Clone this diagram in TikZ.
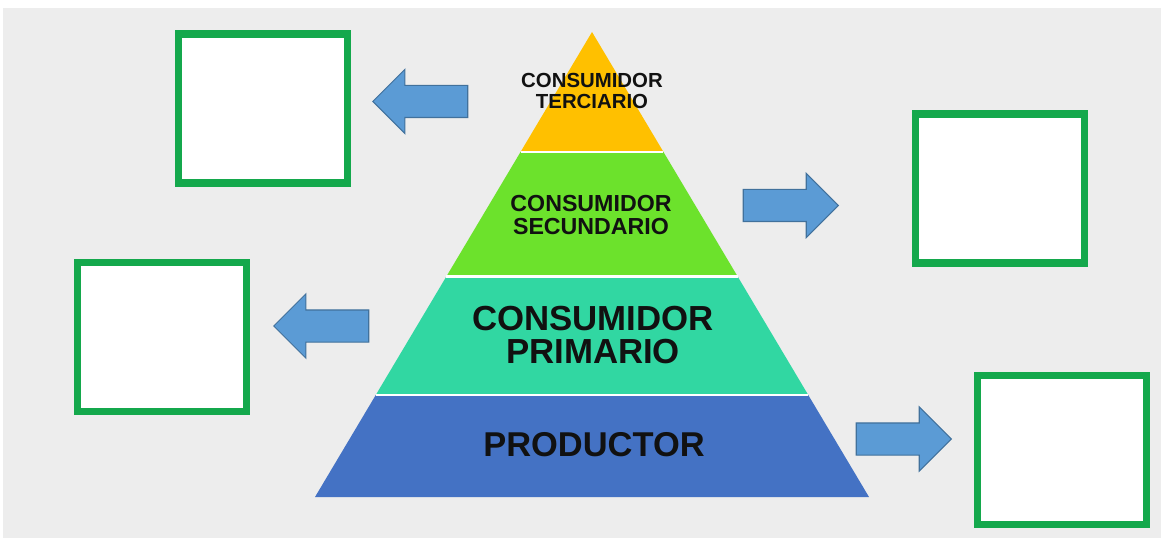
\documentclass[tikz,border=0pt]{standalone}
\usepackage{fontspec}
\setmainfont{Liberation Sans}
\usetikzlibrary{shapes.arrows,calc}
\definecolor{fondo}{HTML}{EDEDED}
\definecolor{naranja}{HTML}{FFC000}
\definecolor{lima}{HTML}{6CE22C}
\definecolor{turquesa}{HTML}{31D7A2}
\definecolor{azul}{HTML}{4472C4}
\definecolor{flechaazul}{HTML}{5B9BD5}
\definecolor{flechaborde}{HTML}{41719C}
\definecolor{cajaverde}{HTML}{14A84C}
\definecolor{letra}{HTML}{111111}
\tikzset{
  caja/.style = {rectangle, draw=cajaverde, fill=white, line width=4pt,
    minimum width=33.8mm, minimum height=29.8mm},% empty answer box
  flecha/.style = {single arrow, draw=flechaborde, fill=flechaazul,
    line width=0.6pt, inner xsep=0pt, inner ysep=3.1mm, anchor=tip,
    minimum height=19mm, single arrow head extend=3.2mm},% block arrow
  izq/.style = {flecha, shape border rotate=180},% arrow to the left
  nivel/.style = {font=\bfseries, text=letra, align=center, inner sep=0pt},
  corte/.style = {white, line width=1.4pt}% gap between levels
}

\begin{document}
\begin{tikzpicture}[x=0.2mm,y=-0.2mm]
\useasboundingbox (0,0) rectangle (1161,538);
\fill[fondo] (3,8) rectangle (1161,538);
% pyramid
\coordinate (apex) at (592,32);
\coordinate (bl) at (315,497);
\coordinate (br) at (869,497);
\coordinate (l1) at ($(apex)!0.258!(bl)$);
\coordinate (r1) at ($(apex)!0.258!(br)$);
\coordinate (l2) at ($(apex)!0.526!(bl)$);
\coordinate (r2) at ($(apex)!0.526!(br)$);
\coordinate (l3) at ($(apex)!0.781!(bl)$);
\coordinate (r3) at ($(apex)!0.781!(br)$);
\fill[naranja] (apex) -- (r1) -- (l1) -- cycle;
\fill[lima] (l1) -- (r1) -- (r2) -- (l2) -- cycle;
\fill[turquesa] (l2) -- (r2) -- (r3) -- (l3) -- cycle;
\fill[azul] (l3) -- (r3) -- (br) -- (bl) -- cycle;
\draw[corte] (l1) -- (r1);
\draw[corte] (l2) -- (r2);
\draw[corte] (l3) -- (r3);
% levels
\node[nivel, font=\fontsize{11.6}{12.3}\selectfont\bfseries] (terciario) at (592,91) {CONSUMIDOR\\TERCIARIO};
\node[nivel, font=\fontsize{13.2}{13.6}\selectfont\bfseries] (secundario) at (591,215) {CONSUMIDOR\\SECUNDARIO};
\node[nivel, font=\fontsize{19.8}{19.3}\selectfont\bfseries] (primario) at (593,335) {CONSUMIDOR\\PRIMARIO};
\node[nivel, font=\fontsize{19.6}{19.6}\selectfont\bfseries] (productor) at (594,445) {PRODUCTOR};
% boxes
\node[caja] (c1) at (263,108.5) {};
\node[caja] (c2) at (999.5,188.5) {};
\node[caja] (c3) at (162,337) {};
\node[caja] (c4) at (1061.5,450) {};
% arrows
\node[izq] (f1) at (372,101.5) {};
\node[flecha] (f2) at (839,205.5) {};
\node[izq] (f3) at (273,326) {};
\node[flecha] (f4) at (952,439) {};
\end{tikzpicture}
\end{document}
